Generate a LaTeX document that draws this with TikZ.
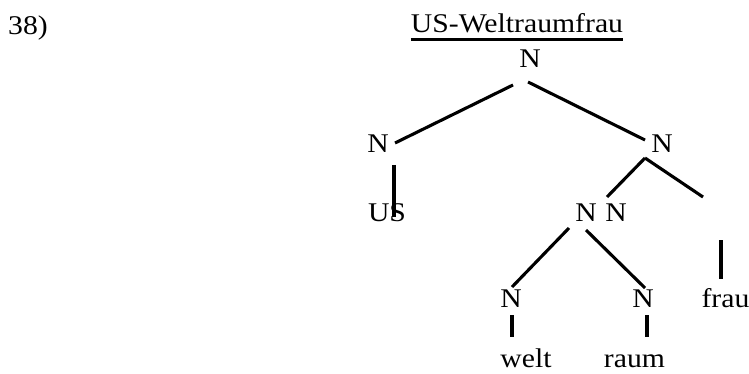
\documentclass[tikz,border=0pt]{standalone}
\usepackage{fontspec}
\setmainfont{Liberation Serif}[FakeStretch=1.1]
\begin{document}
\begin{tikzpicture}[x=1pt,y=-1pt,
  lbl/.style={inner sep=0pt,anchor=base,font=\fontsize{27}{30}\selectfont},
  edge/.style={line width=3.1pt}]
\useasboundingbox (0,0) rectangle (749,374);
\node[lbl,anchor=base west] (num) at (8,35) {38)};
\node[lbl] (title) at (517,33) {US-Weltraumfrau};
\draw[line width=2.4pt] ([shift={(0,6.5)}]title.base west) -- ([shift={(0,6.5)}]title.base east);
\node[lbl] (top) at (530,68) {N};
\node[lbl] (nl) at (378,153) {N};
\node[lbl] (nr) at (662,153) {N};
\node[lbl] (us) at (387,222) {US};
\node[lbl] (na) at (586,222) {N};
\node[lbl] (nb) at (616,222) {N};
\node[lbl] (nw) at (511,307) {N};
\node[lbl] (nra) at (643,307) {N};
\node[lbl] (frau) at (725.5,307) {frau};
\node[lbl] (welt) at (526,367) {welt};
\node[lbl] (raum) at (634.5,367) {raum};
% connectors
\draw[edge] ([shift={(-17,17)}]top.base) -- ([shift={(17,-10)}]nl.base);
\draw[edge] ([shift={(-2,14)}]top.base) -- ([shift={(-17,-13)}]nr.base);
\draw[edge] ([shift={(16,12)}]nl.base) -- ([shift={(7,-5)}]us.base);
\draw[edge] ([shift={(-17,5)}]nr.base) -- ([shift={(-9,-25)}]nb.base);
\draw[edge] ([shift={(-17,5)}]nr.base) -- ([shift={(87,-25)}]nb.base);
\draw[edge] ([shift={(-17,6)}]na.base) -- ([shift={(1,-20)}]nw.base);
\draw[edge] ([shift={(0,8)}]na.base) -- ([shift={(2,-19)}]nra.base);
\draw[edge] ([shift={(1,8)}]nw.base) -- ([shift={(1,30)}]nw.base);
\draw[edge] ([shift={(4,8)}]nra.base) -- ([shift={(4,30)}]nra.base);
\draw[edge] ([shift={(-4.5,-67)}]frau.base) -- ([shift={(-4.5,-28)}]frau.base);
\end{tikzpicture}
\end{document}
